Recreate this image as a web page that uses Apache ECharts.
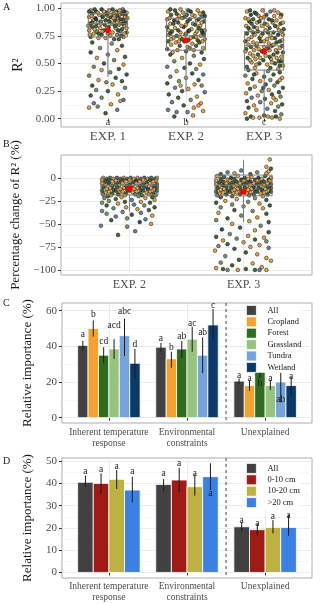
<!DOCTYPE html>
<html>
<head>
<meta charset="utf-8">
<script src="https://cdn.jsdelivr.net/npm/echarts@6/dist/echarts.min.js"></script>
<style>html,body{margin:0;padding:0;background:#fff;}</style>
</head>
<body>
<div id="main" style="width:320px;height:604px;"></div>
<script>
var serif = '"Liberation Serif", "Times New Roman", serif';

// ---- categories / ticks ----
var catsA = ['EXP. 1', 'EXP. 2', 'EXP. 3'];
var catsB = ['EXP. 2', 'EXP. 3'];
var catsC = ['Inherent temperature\nresponse', 'Environmental\nconstraints', 'Unexplained'];
var ticksA = [0, 0.25, 0.5, 0.75, 1];
var minorA = [0.125, 0.375, 0.625, 0.875];
var ticksB = [-100, -75, -50, -25, 0];
var minorB = [-87.5, -62.5, -37.5, -12.5, 12.5];
var ticksC = [0, 20, 40, 60];
var minorC = [10, 30, 50];
var ticksD = [0, 10, 20, 30, 40, 50];
var minorD = [5, 15, 25, 35, 45];

// ---- panel A / B : boxes [low whisker, Q1, median, Q3, high whisker], means, letters ----
var boxA = [[0.38, 0.74, 0.86, 0.95, 1.00], [0.24, 0.62, 0.75, 0.91, 1.00], [0.00, 0.44, 0.66, 0.79, 1.00]];
var meanA = [0.80, 0.71, 0.61];
var lettersA = ['a', 'b', 'c'];
var letterYA = -0.033;
var boxB = [[-37, -18.5, -8, 0, 0], [-48, -19.5, -8, 3, 19]];
var meanB = [-11.5, -15.2];

// point colours: 0 cropland, 1 forest, 2 grassland, 3 tundra, 4 wetland
var ptCols = ['#e29c33', '#2e5326', '#6f8c5d', '#52799f', '#1c3451'];

// jittered points: [x offset, value, colour index]
var ptsA1 = [[-.22,.98,0],[-.15,.97,1],[-.08,.99,4],[.02,.98,0],[.11,.97,1],[.19,.99,3],[.24,.96,0],[-.2,.95,4],[-.11,.94,0],[-.02,.96,1],[.07,.95,2],[.15,.94,0],[.22,.93,1],[-.24,.92,0],[-.16,.91,1],[-.06,.93,0],[.04,.92,4],[.13,.91,0],[.2,.9,1],[-.19,.89,0],[-.09,.88,3],[.0,.9,0],[.09,.89,1],[.17,.88,0],[.23,.87,4],[-.23,.86,1],[-.13,.87,0],[-.04,.85,1],[.05,.86,0],[.14,.85,2],[.21,.84,0],[-.2,.83,1],[-.1,.82,0],[.01,.83,4],[.1,.82,0],[.18,.81,1],[-.24,.8,0],[-.14,.79,2],[-.05,.8,1],[.06,.78,0],[.16,.79,3],[.24,.78,1],[-.18,.77,0],[-.08,.76,1],[.03,.75,0],[.12,.76,2],[.2,.74,0],[-.22,.74,1],[-.12,.73,0],[.08,.72,1],
[-.17,.99,1],[-.05,.97,0],[.06,.99,1],[.15,.98,0],[.21,.97,4],[-.24,.97,1],[-.13,.96,0],[-.01,.94,1],[.1,.96,0],[.18,.95,1],[-.21,.93,0],[-.07,.92,1],[.03,.94,0],[.12,.93,1],[.25,.91,0],[-.15,.9,4],[-.03,.89,1],[.07,.91,0],[.16,.9,1],[.22,.92,0],[-.2,.87,1],[-.09,.86,0],[.02,.88,1],[.12,.87,0],[.19,.86,1],[-.25,.84,0],[-.15,.84,1],[-.01,.82,0],[.09,.84,1],[.24,.82,0],[-.17,.81,0],[-.07,.79,0],[.13,.8,1],[.21,.77,0],[-.12,.77,1],[.0,.77,2],[-.23,.76,0],[.17,.75,1],[-.03,.73,0],[.14,.72,1],
[-.2,.69,1],[.05,.68,2],[.18,.66,1],[-.1,.64,2],[.12,.62,0],[-.22,.6,1],[.0,.58,2],[.22,.56,1],[-.14,.55,0],[.08,.53,2],[-.05,.5,1],[.2,.49,0],[-.18,.47,2],[.14,.45,1],[-.08,.44,0],[.03,.42,2],[.24,.4,1],[-.24,.39,2],[.1,.37,1],[-.12,.35,0],[.18,.34,1],[-.02,.33,2],[-.2,.3,1],[.06,.31,0],[.22,.28,3],[-.15,.26,2],[.0,.25,1],[.13,.22,0],[-.22,.21,1],[-.08,.19,2],[.2,.17,3],[-.18,.14,3],[.04,.13,0],[-.24,.1,0],[.12,.08,3],[-.03,.05,1],[.16,.16,0],[-.13,.11,2]];
var ptsA2 = [[-.23,.97,0],[-.14,.98,1],[-.04,.96,0],[.06,.97,4],[.15,.98,0],[.22,.96,1],[-.19,.94,1],[-.09,.93,0],[.01,.94,1],[.11,.93,0],[.2,.92,3],[-.24,.9,0],[-.15,.89,4],[-.05,.91,0],[.05,.9,1],[.14,.89,0],[.23,.88,1],[-.2,.86,0],[-.1,.87,1],[.0,.85,0],[.09,.86,2],[.18,.84,0],[-.24,.83,1],[-.14,.82,0],[-.03,.83,4],[.07,.81,0],[.16,.82,1],[.24,.8,0],[-.18,.79,1],[-.07,.78,0],[.03,.79,1],[.12,.77,0],[.21,.78,4],[-.22,.76,0],[-.12,.75,1],[-.01,.76,0],[.1,.74,1],[.19,.75,0],[-.16,.73,0],[-.05,.72,1],[.06,.73,0],[.15,.71,1],[.24,.72,0],[-.23,.7,1],[-.13,.69,0],[-.02,.7,4],[.08,.68,0],[.17,.69,1],[-.19,.67,0],[-.08,.66,1],[.02,.65,0],[.13,.66,1],[.22,.64,0],[-.24,.63,1],[-.11,.62,0],[.0,.61,1],[.1,.62,0],[.2,.6,1],[-.17,.6,0],[.05,.64,2],
[-.2,.99,1],[-.07,.99,0],[.03,.98,1],[.18,.95,0],[-.12,.95,1],[.08,.94,0],[.24,.93,4],[-.02,.92,1],[-.21,.91,0],[.16,.9,1],[-.11,.9,0],[.02,.88,1],[.2,.87,0],[-.16,.86,1],[.12,.85,1],[-.06,.84,0],[-.22,.8,0],[.04,.8,1],[.2,.8,1],[-.1,.8,1],[.14,.79,0],[-.2,.77,1],[.0,.77,2],[.23,.76,1],[-.08,.74,0],[.13,.74,0],[-.19,.72,0],[.03,.71,1],[.21,.7,0],[-.09,.7,0],
[-.2,.58,1],[.1,.57,2],[-.05,.55,0],[.23,.54,1],[-.15,.52,2],[.05,.5,1],[.18,.49,0],[-.24,.47,3],[-.02,.46,1],[.13,.45,2],[-.12,.43,0],[.08,.41,1],[.22,.4,3],[-.2,.38,2],[.0,.37,0],[.16,.35,1],[-.09,.34,2],[-.24,.32,1],[.11,.31,0],[.2,.3,2],[-.14,.28,3],[.03,.27,0],[-.05,.25,1],[.24,.24,3],[-.22,.22,1],[.14,.2,0],[-.1,.19,1],[.06,.17,2],[-.18,.15,3],[.19,.14,0],[-.03,.12,1],[.1,.1,0],[-.23,.08,3],[.22,.07,0],[-.12,.06,3],[.02,.06,3],[-.15,.02,1],[.09,.03,0],[.16,.12,0],[-.07,.3,0]];
var ptsA3 = [[-.22,.97,0],[-.12,.96,1],[-.02,.98,0],[.08,.97,3],[.18,.96,0],[-.17,.94,4],[-.07,.93,0],[.03,.94,1],[.13,.93,0],[.22,.94,1],[-.24,.91,0],[-.14,.9,1],[-.04,.91,0],[.06,.9,4],[.16,.89,0],[-.19,.88,1],[-.09,.87,0],[.01,.86,1],[.11,.87,0],[.21,.86,1],[-.23,.84,0],[-.13,.83,4],[-.03,.84,0],[.07,.82,1],[.17,.83,0],[.25,.81,1],[-.18,.8,0],[-.08,.79,1],[.02,.8,0],[.12,.78,1],[.22,.79,0],[-.22,.77,1],[-.12,.76,0],[-.02,.77,1],[.08,.75,0],[.18,.76,4],[-.16,.74,0],[-.06,.73,1],[.04,.72,0],[.14,.73,1],[.23,.71,0],[-.24,.7,1],[-.14,.69,0],[-.04,.7,1],[.06,.68,0],[.16,.69,1],[-.2,.67,0],[-.1,.66,1],[.0,.65,0],[.1,.66,4],[.2,.64,0],[-.23,.63,1],[-.13,.62,0],[-.03,.61,1],[.07,.62,0],[.17,.6,1],[-.18,.59,0],[-.08,.58,1],[.02,.57,0],[.12,.58,1],[.22,.56,0],[-.21,.55,1],[-.11,.54,0],[-.01,.53,1],[.09,.54,0],[.19,.52,1],[-.16,.51,0],[-.06,.5,1],[.04,.49,0],[.14,.5,1],[.24,.48,0],[-.22,.47,1],[-.12,.46,0],[.08,.46,1],[.18,.45,0],
[-.18,.98,1],[.13,.98,0],[-.1,.95,1],[.21,.92,0],[.0,.92,0],[-.2,.9,0],[.1,.89,1],[-.06,.88,1],[.24,.87,0],[-.16,.86,1],[.04,.85,0],[.14,.84,1],[-.09,.82,0],[-.2,.82,1],[.19,.8,0],[.05,.78,1],[-.14,.78,1],[.24,.76,0],[-.04,.75,0],[.1,.73,0],[-.2,.72,0],[.2,.7,1],[.0,.7,0],[-.09,.68,0],[.12,.67,0],[-.17,.65,1],[.23,.66,1],[.05,.64,1],[-.07,.63,0],[.15,.62,0],[-.24,.61,0],[.0,.6,0],[.24,.6,1],[-.14,.57,0],[.07,.56,1],[.16,.55,0],[-.05,.55,0],[-.18,.53,0],[.22,.52,1],[.1,.51,0],[-.1,.49,0],[.2,.48,1],
[-.2,.44,1],[.05,.43,2],[.2,.42,1],[-.1,.41,0],[.12,.4,1],[-.24,.39,2],[.0,.38,1],[.23,.37,0],[-.15,.36,1],[.08,.35,2],[-.05,.34,0],[.17,.33,1],[-.21,.32,0],[.02,.31,1],[.13,.3,2],[-.12,.29,0],[.24,.28,1],[-.18,.27,1],[.06,.26,0],[-.03,.25,2],[.19,.24,1],[-.23,.23,0],[.1,.22,1],[-.08,.21,0],[.21,.2,2],[-.16,.19,3],[.01,.18,1],[.15,.17,0],[-.22,.16,1],[-.05,.15,3],[.09,.14,0],[.23,.13,1],[-.13,.12,0],[.18,.11,2],[-.2,.1,1],[.04,.09,3],[-.1,.08,0],[.14,.07,1],[-.24,.05,0],[.22,.04,2],[-.17,.02,1],[-.06,.01,0],[.05,.02,0],[.1,.01,0],[.15,.02,1],[.2,.0,0],[-.22,.0,1],[-.14,.01,0],[.0,.03,1],[.12,.19,0],[-.01,.28,1],[.2,.35,0],[-.13,.4,1]];
var ptsB2 = [[-.23,0,0],[-.17,0,1],[-.11,0,4],[-.05,0,0],[.01,0,1],[.07,0,0],[.13,0,4],[.19,0,1],[.24,0,0],[-.2,-1,1],[-.14,-1,0],[-.08,-1,1],[-.02,-1,4],[.04,-1,0],[.1,-1,1],[.16,-1,0],[.22,-1,1],[-.24,-2,0],[-.18,-2,1],[-.12,-3,0],[-.06,-2,1],[0,-2,0],[.06,-3,4],[.12,-2,0],[.18,-2,1],[.23,-3,0],[-.21,-4,1],[-.15,-4,0],[-.09,-5,1],[-.03,-4,0],[.03,-5,1],[.09,-4,0],[.15,-5,1],[.21,-4,0],[-.24,-6,0],[-.18,-6,4],[-.12,-7,1],[-.06,-6,0],[0,-7,1],[.06,-6,0],[.12,-7,1],[.18,-6,0],[.24,-7,1],[-.21,-8,0],[-.15,-9,1],[-.09,-8,0],[-.03,-9,1],[.03,-8,0],[.09,-9,4],[.15,-8,0],[.21,-9,1],[-.23,-10,1],[-.17,-11,0],[-.11,-10,1],[-.05,-11,0],[.01,-10,1],[.07,-11,0],[.13,-10,1],[.19,-11,0],[.24,-10,1],[-.2,-12,0],[-.14,-13,1],[-.08,-12,0],[-.02,-13,1],[.04,-12,0],[.1,-13,1],[.16,-12,4],[.22,-13,0],[-.24,-14,1],[-.18,-15,0],[-.12,-14,1],[-.06,-15,0],[0,-14,1],[.06,-15,0],[.12,-14,1],[.18,-15,0],[.24,-14,1],[-.21,-16,0],[-.15,-17,1],[-.09,-16,0],[-.03,-17,1],[.03,-16,0],[.09,-17,1],[.15,-16,0],[.21,-17,1],[-.23,-18,3],[-.16,-19,0],[-.1,-18,1],[-.04,-19,0],[.05,-18,3],[.11,-19,1],[.17,-18,0],[.23,-19,2],[-.19,-20,1],[-.07,-21,0],[.08,-20,2],[.2,-21,1],
[-.22,-22,2],[.14,-22,0],[-.12,-23,1],[.02,-24,3],[.22,-24,0],[-.18,-25,2],[-.04,-26,1],[.1,-26,0],[-.24,-27,2],[.18,-27,1],[-.1,-28,0],[.04,-29,3],[-.2,-30,1],[.13,-30,2],[-.03,-32,0],[.22,-32,1],[-.14,-33,2],[.07,-34,0],[-.24,-36,2],[.17,-35,1],[-.06,-37,2],[.1,-38,3],[-.2,-39,2],[.02,-40,1],[-.12,-42,3],[.2,-41,0],[-.02,-44,2],[.14,-45,3],[-.16,-46,1],[.09,-48,4],[.19,-50,0],[-.25,-52,3],[-.02,-53,2],[.05,-58,3],[-.1,-62,1]];
var ptsB3 = [[-.23,2,0],[-.17,1,1],[-.11,0,4],[-.05,2,0],[.01,0,1],[.07,1,0],[.13,0,4],[.19,2,1],[.24,0,0],[-.2,-1,1],[-.14,-2,0],[-.08,-1,1],[-.02,-2,4],[.04,-1,0],[.1,-2,1],[.16,-1,0],[.22,-2,1],[-.24,-3,0],[-.18,-4,1],[-.12,-3,0],[-.06,-4,1],[0,-3,0],[.06,-4,4],[.12,-3,0],[.18,-4,1],[.23,-3,0],[-.21,-5,1],[-.15,-6,0],[-.09,-5,1],[-.03,-6,0],[.03,-5,1],[.09,-6,0],[.15,-5,1],[.21,-6,0],[-.24,-7,0],[-.18,-8,4],[-.12,-7,1],[-.06,-8,0],[0,-7,1],[.06,-8,0],[.12,-7,1],[.18,-8,0],[.24,-7,1],[-.21,-9,0],[-.15,-10,1],[-.09,-9,0],[-.03,-10,1],[.03,-9,0],[.09,-10,4],[.15,-9,0],[.21,-10,1],[-.23,-11,1],[-.17,-12,0],[-.11,-11,1],[-.05,-12,0],[.01,-11,1],[.07,-12,0],[.13,-11,1],[.19,-12,0],[.24,-11,1],[-.2,-13,0],[-.14,-14,1],[-.08,-13,0],[-.02,-14,1],[.04,-13,0],[.1,-14,1],[.16,-13,4],[.22,-14,0],[-.24,-15,1],[-.18,-16,0],[-.12,-15,1],[-.06,-16,0],[0,-15,1],[.06,-16,0],[.12,-15,1],[.18,-16,0],[.24,-15,1],[-.21,-17,0],[-.15,-18,1],[-.09,-17,0],[-.03,-18,1],[.03,-17,0],[.09,-18,1],[.15,-17,0],[.21,-18,1],[-.23,-19,3],[-.1,-20,1],[.05,-19,3],[.17,-20,0],[-.2,4,1],[-.08,5,0],[.06,4,1],[.2,5,0],[.12,6,2],[-.14,6,3],[.22,7,0],
[.23,20,0],[.2,12,0],[.24,10,1],[-.02,8,3],[-.2,-21,1],[.1,-22,2],[-.06,-23,0],[.2,-24,1],[-.16,-25,0],[.04,-26,2],[-.24,-27,1],[.14,-28,0],[-.1,-29,2],[.23,-30,1],[.0,-31,0],[-.2,-32,2],[.17,-33,0],[-.08,-35,1],[.08,-36,2],[-.22,-38,0],[.2,-39,1],[-.02,-41,2],[.12,-43,0],[-.14,-44,1],[-.24,-46,2],[.05,-47,0],[.22,-48,1],[-.1,-50,0],[.15,-52,2],[-.03,-54,1],[-.19,-56,4],[.1,-57,0],[.22,-59,1],[-.12,-61,2],[.04,-63,0],[-.24,-64,1],[.18,-65,0],[-.06,-66,2],[.1,-67,1],[-.18,-68,0],[.2,-69,2],[.0,-70,0],[-.14,-72,1],[.14,-73,0],[-.22,-74,2],[.06,-75,0],[.22,-76,3],[-.08,-77,1],[-.25,-79,0],[.02,-81,1],[.12,-83,0],[-.16,-85,2],[.2,-87,0],[-.04,-89,1],[.24,-90,0],[-.2,-92,2],[.08,-93,0],[-.1,-95,1],[.16,-97,0],[-.24,-98,0],[.02,-99,1],[-.14,-100,2],[.1,-100,1],[.2,-100,0],[-.05,-100,0],[.14,-100,3],[-.18,-99,1]];

// ---- panel C ----
var groupC = ['All', 'Cropland', 'Forest', 'Grassland', 'Tundra', 'Wetland'];
var colC = ['#414141', '#f5a12e', '#2f6b20', '#96c47e', '#75a3dc', '#0c3a66'];
var valC = [[40.5, 39.5, 20.5], [50, 33, 18], [35, 38.5, 26.5], [38.5, 44, 18], [46, 35, 20], [30.5, 52, 18]];
var loC = [[38, 37, 19], [45.5, 28, 15], [30.5, 33.5, 22], [33, 37, 15.5], [34.5, 25, 8.5], [22, 44, 13]];
var hiC = [[43, 42, 22], [54.5, 37, 21], [39.5, 43, 30], [44, 51, 21], [55.5, 45, 26], [38.5, 61, 23]];
var letC = [['a', 'a', 'a'], ['b', 'b', 'a'], ['cd', 'ab', 'b'], ['acd', 'ac', 'a'], ['abc', 'ab', 'ab'], ['d', 'c', 'a']];
var letYC = [[46.5, 44.6, 23.5], [57.7, 39.6, 22.2], [42.7, 45.5, 18.9], [51.5, 53, 22.2], [59.6, 47.5, 10], [40.9, 62.7, 22.8]];

// ---- panel D ----
var groupD = ['All', '0-10 cm', '10-20 cm', '>20 cm'];
var colD = ['#414141', '#9e1c15', '#bdb141', '#3b81e3'];
var valD = [[40.5, 39.5, 20.5], [40, 41.5, 19.2], [41.8, 38.5, 20.2], [37, 43, 20.2]];
var loD = [[38.5, 36.5, 18.5], [35, 36, 16.2], [37.5, 34.5, 17.5], [31.5, 37, 16.5]];
var hiD = [[43.5, 42, 22.5], [44.5, 47, 22], [46, 44, 23.5], [43, 49, 26]];
var letD = [['a', 'a', 'a'], ['a', 'a', 'a'], ['a', 'a', 'a'], ['a', 'a', 'a']];
var letYD = [[45.5, 44.4, 23.5], [46.4, 48.9, 22], [47.4, 44.4, 25], [45.2, 35.5, 25.7]];

var tickCol = '#4d4d4d';
var gridCol = '#ebebeb';
var minorCol = '#f5f5f5';

function minus(v) { return v < 0 ? '\u2212' + Math.abs(v) : String(v); }

function xAx(p, cats, fs, margin, lh) {
    var at = cats.map(function (c, i) { return i + 1; });
    return {
        type: 'value', gridIndex: p, min: 0.4, max: cats.length + 0.6,
        axisLine: { show: false },
        axisTick: { show: true, customValues: at, length: 3, lineStyle: { color: '#333' } },
        axisLabel: { customValues: at, formatter: function (v) { return cats[Math.round(v) - 1]; },
            fontFamily: serif, fontSize: fs, color: tickCol, margin: margin, lineHeight: lh },
        splitLine: { show: true, lineStyle: { color: gridCol } }
    };
}
function yAx(p, min, max, ticks, fmt, fs, margin, name, nfs, gap) {
    return {
        type: 'value', gridIndex: p, min: min, max: max,
        axisLine: { show: false },
        axisTick: { show: true, customValues: ticks, length: 3, lineStyle: { color: '#333' } },
        axisLabel: { customValues: ticks, formatter: fmt, fontFamily: serif, fontSize: fs, color: tickCol, margin: margin },
        splitLine: { show: true, lineStyle: { color: gridCol } },
        name: name, nameLocation: 'middle', nameRotate: 90, nameGap: gap,
        nameTextStyle: { fontFamily: serif, fontSize: nfs, color: '#1a1a1a' }
    };
}
function yMinor(p, min, max, minors) {
    return {
        type: 'value', gridIndex: p, min: min, max: max, position: 'left',
        axisLine: { show: false }, axisLabel: { show: false },
        axisTick: { show: false, customValues: minors },
        splitLine: { show: true, lineStyle: { color: minorCol, width: 0.8 } }
    };
}

function ptSeries(p, g, pts) {
    return {
        type: 'scatter', xAxisIndex: p, yAxisIndex: 2 * p, symbolSize: 3.7, silent: true, z: 2,
        itemStyle: { borderColor: '#1a1a1a', borderWidth: 0.6, opacity: 0.9 },
        data: pts.map(function (q) { return { value: [g + q[0], q[1]], itemStyle: { color: ptCols[q[2]] } }; })
    };
}
function boxSeries(p, boxes) {
    return {
        type: 'custom', xAxisIndex: p, yAxisIndex: 2 * p, silent: true, z: 3,
        data: boxes.map(function (b, i) { return [i + 1].concat(b); }),
        renderItem: function (params, api) {
            var g = api.value(0), hw = 0.25;
            var lo = api.coord([g, api.value(1)]);
            var q1 = api.coord([g - hw, api.value(2)]);
            var md = api.coord([g + hw, api.value(3)]);
            var q3 = api.coord([g + hw, api.value(4)]);
            var hi = api.coord([g, api.value(5)]);
            var st = { stroke: '#7a7a7a', lineWidth: 1, fill: 'none' };
            return { type: 'group', children: [
                { type: 'line', shape: { x1: lo[0], y1: lo[1], x2: lo[0], y2: q1[1] }, style: st },
                { type: 'line', shape: { x1: hi[0], y1: q3[1], x2: hi[0], y2: hi[1] }, style: st },
                { type: 'rect', shape: { x: q1[0], y: q3[1], width: q3[0] - q1[0], height: q1[1] - q3[1] }, style: st },
                { type: 'line', shape: { x1: q1[0], y1: md[1], x2: md[0], y2: md[1] }, style: st }
            ] };
        }
    };
}
function meanSeries(p, means) {
    return {
        type: 'scatter', xAxisIndex: p, yAxisIndex: 2 * p, symbolSize: 6, silent: true, z: 4,
        itemStyle: { color: '#ff0000', opacity: 1 },
        data: means.map(function (m, i) { return [i + 1, m]; })
    };
}
function letterSeries(p, labels, y, fs) {
    return {
        type: 'scatter', xAxisIndex: p, yAxisIndex: 2 * p, symbolSize: 1, silent: true, z: 6,
        itemStyle: { color: 'rgba(0,0,0,0)' },
        label: { show: true, position: 'inside', fontFamily: serif, fontSize: fs, color: '#1a1a1a',
            formatter: function (params) { return labels[params.dataIndex]; } },
        labelLayout: { hideOverlap: false },
        data: labels.map(function (l, i) { return [i + 1, y]; })
    };
}
function barSeries(p, names, cols, vals, los, his, lets, letYs, k, fs) {
    var n = names.length, w = 0.8 / n;
    return {
        type: 'custom', name: names[k], xAxisIndex: p, yAxisIndex: 2 * p, z: 3,
        itemStyle: { color: cols[k] },
        encode: { x: 0, y: [1, 2, 3] },
        data: vals[k].map(function (v, i) { return [i + 1, v, los[k][i], his[k][i], letYs[k][i]]; }),
        renderItem: function (params, api) {
            var cx = api.value(0) + (k - (n - 1) / 2) * w;
            var b0 = api.coord([cx - w / 2, 0]);
            var b1 = api.coord([cx + w / 2, api.value(1)]);
            var e0 = api.coord([cx, api.value(2)]);
            var e1 = api.coord([cx, api.value(3)]);
            var t = api.coord([cx, api.value(4)]);
            return { type: 'group', children: [
                { type: 'rect', shape: { x: b0[0], y: b1[1], width: b1[0] - b0[0], height: b0[1] - b1[1] },
                  style: { fill: cols[k], stroke: '#ffffff', lineWidth: 0.8 } },
                { type: 'line', shape: { x1: e0[0], y1: e0[1], x2: e1[0], y2: e1[1] },
                  style: { stroke: '#1a1a1a', lineWidth: 1 } },
                { type: 'text', x: t[0], y: t[1], style: { text: lets[k][params.dataIndex], fill: '#1a1a1a',
                  font: fs + 'px ' + serif, align: 'center', verticalAlign: 'middle' } }
            ] };
        }
    };
}
function divider(p) {
    return {
        type: 'custom', xAxisIndex: p, yAxisIndex: 2 * p, silent: true, z: 4,
        data: [[2.5]],
        renderItem: function (params, api) {
            var cs = params.coordSys;
            var x = api.coord([api.value(0), 0])[0];
            return { type: 'line', shape: { x1: x, y1: cs.y, x2: x, y2: cs.y + cs.height },
                style: { stroke: '#444', lineWidth: 1, lineDash: [3, 3] } };
        }
    };
}
function legendOf(names, cols, top) {
    return {
        orient: 'vertical', left: 246, top: top, padding: 0, itemWidth: 10, itemHeight: 10, itemGap: 0.6,
        backgroundColor: '#fff', selectedMode: false,
        data: names.map(function (n, i) { return { name: n, icon: 'rect', itemStyle: { color: cols[i], borderColor: '#fff', borderWidth: 0.8 } }; }),
        textStyle: { fontFamily: serif, fontSize: 8.5, color: '#1a1a1a', padding: [0, 0, 0, 6] }
    };
}

var gridStyle = { show: true, borderColor: '#adadad', borderWidth: 1, backgroundColor: '#fff' };
var grids = [
    Object.assign({ left: 61, top: 3, width: 250, height: 124 }, gridStyle),
    Object.assign({ left: 61, top: 155, width: 251, height: 120 }, gridStyle),
    Object.assign({ left: 62, top: 303, width: 250, height: 120 }, gridStyle),
    Object.assign({ left: 62, top: 458, width: 250, height: 120 }, gridStyle)
];

var series = [
    ptSeries(0, 1, ptsA1), ptSeries(0, 2, ptsA2), ptSeries(0, 3, ptsA3),
    boxSeries(0, boxA), meanSeries(0, meanA), letterSeries(0, lettersA, letterYA, 11),
    ptSeries(1, 1, ptsB2), ptSeries(1, 2, ptsB3),
    boxSeries(1, boxB), meanSeries(1, meanB),
    divider(2), divider(3)
];
groupC.forEach(function (n, k) { series.push(barSeries(2, groupC, colC, valC, loC, hiC, letC, letYC, k, 9.5)); });
groupD.forEach(function (n, k) { series.push(barSeries(3, groupD, colD, valD, loD, hiD, letD, letYD, k, 9.5)); });

var titleStyle = { fontFamily: serif, fontSize: 10, fontWeight: 'normal', color: '#1a1a1a' };
var myChart = echarts.init(document.getElementById('main'), null, { renderer: 'canvas' });
myChart.setOption({
    animation: false,
    backgroundColor: '#fff',
    title: [
        { text: 'A', left: 3, top: 2, padding: 0, textStyle: titleStyle },
        { text: 'B', left: 3, top: 139, padding: 0, textStyle: titleStyle },
        { text: 'C', left: 3, top: 298, padding: 0, textStyle: titleStyle },
        { text: 'D', left: 3, top: 456, padding: 0, textStyle: titleStyle }
    ],
    legend: [legendOf(groupC, colC, 305), legendOf(groupD, colD, 463)],
    grid: grids,
    xAxis: [
        xAx(0, catsA, 13, 3, 14),
        xAx(1, catsB, 12, 3, 13),
        xAx(2, catsC, 9.5, 4, 11),
        xAx(3, catsC, 9.5, 3, 11)
    ],
    yAxis: [
        yAx(0, -0.075, 1.047, ticksA, function (v) { return v.toFixed(2); }, 11, 6, 'R\u00b2', 14, 28),
        yMinor(0, -0.075, 1.047, minorA),
        yAx(1, -105.5, 24.8, ticksB, minus, 11, 5, 'Percentage change of R\u00b2 (%)', 13, 30),
        yMinor(1, -105.5, 24.8, minorB),
        yAx(2, -3, 64.3, ticksC, minus, 11, 5, 'Relative importance (%)', 13, 28),
        yMinor(2, -3, 64.3, minorC),
        yAx(3, -2.5, 51.4, ticksD, minus, 11, 5, 'Relative importance (%)', 13, 28),
        yMinor(3, -2.5, 51.4, minorD)
    ],
    series: series
});
</script>
</body>
</html>
